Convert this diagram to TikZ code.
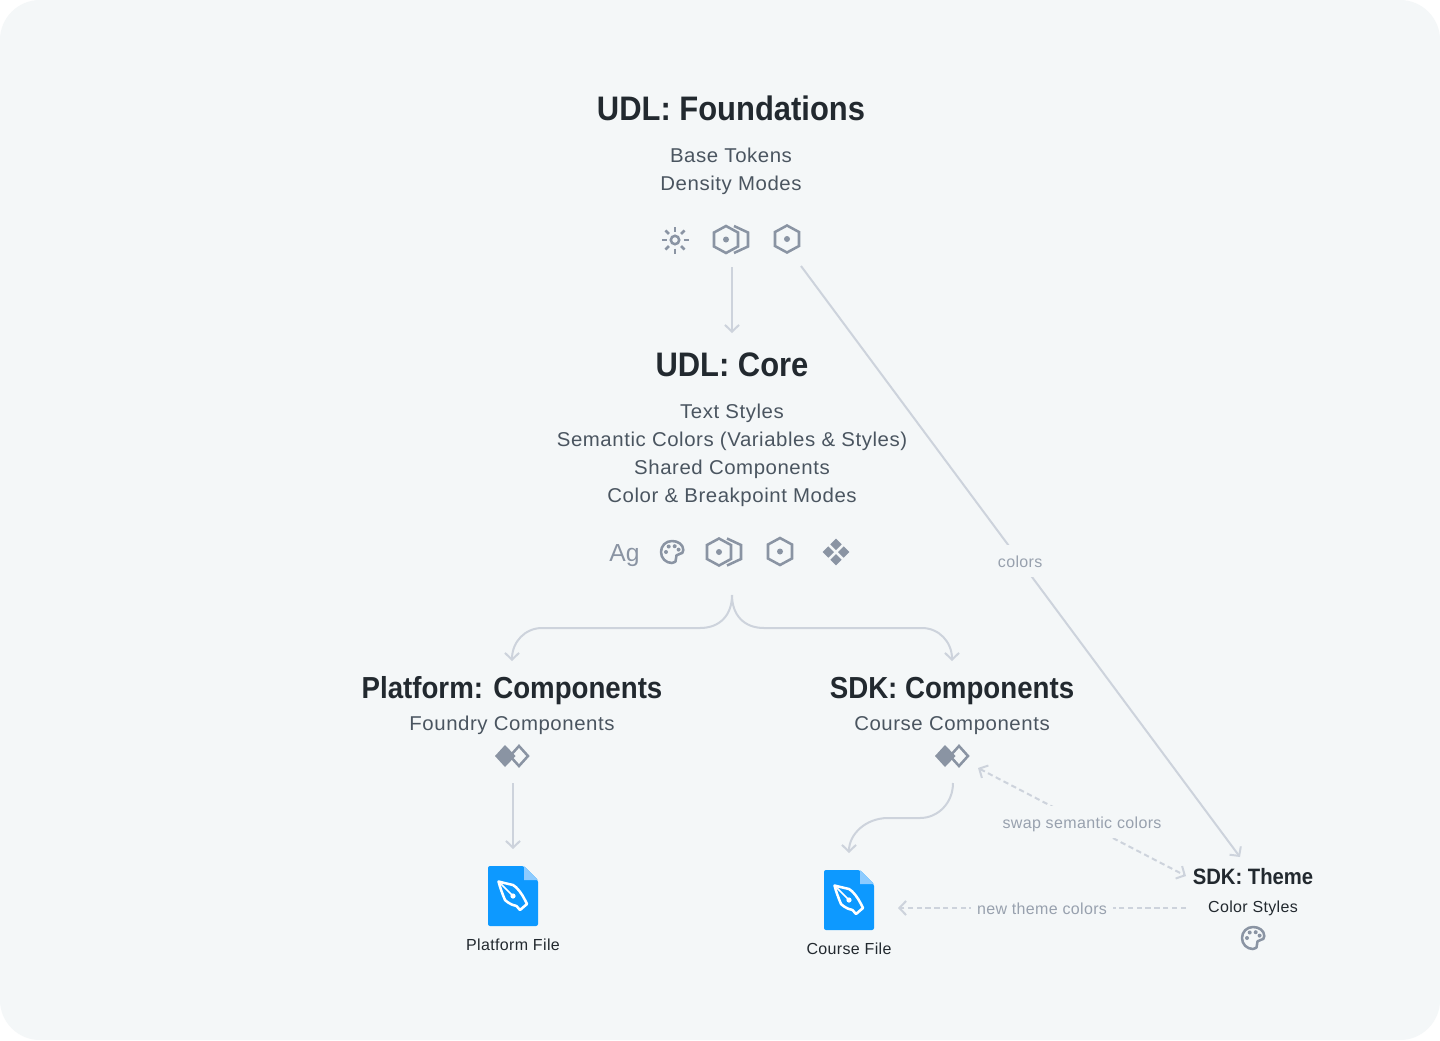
\documentclass[tikz,border=0pt]{standalone}
\usepackage{fontspec}
\setmainfont{Liberation Sans}
\usetikzlibrary{arrows.meta}
\definecolor{bgc}{HTML}{F4F7F8}
\definecolor{linec}{HTML}{CDD3DC}
\definecolor{iconc}{HTML}{8A94A3}
\definecolor{titlec}{HTML}{22292F}
\definecolor{subc}{HTML}{4A5560}
\definecolor{labelc}{HTML}{98A1AE}
\definecolor{fileblue}{HTML}{0D99FF}
\definecolor{foldblue}{HTML}{8CCBFF}
\newfontfamily\titlefont[FakeStretch=0.91]{Liberation Sans Bold}
\newfontfamily\subfont[FakeStretch=1.02,LetterSpace=2.8]{Liberation Sans}
\newfontfamily\smallfont[LetterSpace=2.2]{Liberation Sans}
\tikzset{
  txt/.style={anchor=base,inner sep=0pt,align=center},
  bigtitle/.style={txt,text=titlec,font=\titlefont\fontsize{25.5}{30}\selectfont},
  midtitle/.style={txt,text=titlec,font=\titlefont\fontsize{22.8}{27}\selectfont},
  smalltitle/.style={txt,text=titlec,font=\titlefont\fontsize{16.7}{20}\selectfont},
  subline/.style={txt,text=subc,font=\subfont\fontsize{15}{18}\selectfont},
  filelabel/.style={txt,text=titlec,font=\smallfont\fontsize{12}{15}\selectfont},
  linklabel/.style={anchor=center,inner xsep=4.5pt,inner ysep=6.4pt,text height=10.5pt,text depth=0.7pt,fill=bgc,text=labelc,font=\smallfont\fontsize{12}{15}\selectfont},
  link/.style={draw=linec,line width=1.5pt,-{Straight Barb[length=5pt,width=10.5pt,line width=1.5pt]}},
  dashlink/.style={link,dash pattern=on 4pt off 2.6pt},
  iconline/.style={draw=iconc,line width=1.9pt,line join=miter,fill=none},
  iconfill/.style={fill=iconc,draw=none},
  nibline/.style={draw=white,line width=1.9pt,line join=round}
}
\newcommand{\hexicon}[1]{\begin{scope}[shift={(#1)}]
  \draw[iconline] (0,-13.5)--(12,-7)--(12,7)--(0,13.5)--(-12,7)--(-12,-7)--cycle;
  \fill[iconfill] (0,0) circle[radius=3];
\end{scope}}
\newcommand{\dblhexicon}[1]{\begin{scope}[shift={(#1)}]
  \hexicon{0,0}
  \draw[iconline] (8,-13.5)--(22,-7)--(22,7)--(8,13.5);
\end{scope}}
\newcommand{\sunicon}[1]{\begin{scope}[shift={(#1)}]
  \draw[iconline] (0,0) circle[radius=4.2];
  \foreach \a in {0,45,...,315}{\draw[iconline] (\a:8.5)--(\a:13.5);}
\end{scope}}
\newcommand{\paletteicon}[1]{\begin{scope}[shift={(#1)}]
  \draw[iconline,line join=round] (0,-11) .. controls (-6.3,-11) and (-11,-6.2) .. (-11,0)
    .. controls (-11,6.2) and (-6.2,11) .. (0,11)
    .. controls (3,11) and (4.8,9) .. (4,6.5)
    .. controls (3.2,4) and (5,2) .. (7.5,2)
    .. controls (10,2) and (11.3,0.3) .. (11.3,-2)
    .. controls (11.3,-7.5) and (6,-11) .. (0,-11) -- cycle;
  \fill[iconfill] (-6,0) circle[radius=2] (-3.3,-5.5) circle[radius=2]
    (2.7,-5.8) circle[radius=2] (6.6,-2.4) circle[radius=2];
\end{scope}}
\newcommand{\smalldiamond}[1]{\fill[iconfill] (#1)+(0,-5.7)--+(5.7,0)--+(0,5.7)--+(-5.7,0)--cycle;}
\newcommand{\fourdiamonds}[1]{\begin{scope}[shift={(#1)}]
  \smalldiamond{0,-7.7}\smalldiamond{7.7,0}\smalldiamond{0,7.7}\smalldiamond{-7.7,0}
\end{scope}}
\newcommand{\compicon}[1]{\begin{scope}[shift={(#1)}]
  \fill[iconfill] (-7,-11)--(3.5,0)--(-7,11)--(-17,0)--cycle;
  \draw[iconline] (7,-10)--(16,0)--(7,10)--(-2,0)--cycle;
\end{scope}}
\newcommand{\fileicon}[1]{\begin{scope}[shift={(#1)}]
  \fill[fileblue,rounded corners=1.5pt] (-25,-30)--(11,-30)--(25,-16)--(25,30)--(-25,30)--cycle;
  \fill[foldblue] (11,-30)--(25,-16)--(11,-16)--cycle;
  \draw[nibline] (-14.5,-14.5) .. controls (-9,-13) and (-4,-12) .. (0,-11)
    .. controls (4,-9) and (9,-2) .. (12,4) -- (14,8) -- (7,14) -- (3.5,10)
    .. controls (-3,9) and (-8,4) .. (-8,4) .. controls (-11,-3) and (-13,-9) .. (-14.5,-14.5) -- cycle;
  \draw[white,line width=1.1pt] (-14.5,-14.5)--(0,0);
  \fill[white] (0,0) circle[radius=2.6];
\end{scope}}
\begin{document}
\begin{tikzpicture}[x=0.75pt,y=-0.75pt]
\useasboundingbox (0,0) rectangle (1440,1040);
\fill[white] (0,0) rectangle (1440,1040);
\fill[bgc,rounded corners=30pt] (0,0) rectangle (1440,1040);

% text
\node[bigtitle] (foundations) at (731,120) {UDL: Foundations};
\node[subline] (base) at (731,162) {Base Tokens};
\node[subline] (density) at (731,190) {Density Modes};
\node[bigtitle] (core) at (732,376.5) {UDL: Core};
\node[subline] (textstyles) at (732,418) {Text Styles};
\node[subline] (semantic) at (732,446) {Semantic Colors (Variables \& Styles)};
\node[subline] (shared) at (732,474) {Shared Components};
\node[subline] (modes) at (732,502) {Color \& Breakpoint Modes};
\node[midtitle] (platform) at (512,698.5) {Platform: Components};
\node[subline] (foundry) at (512,730) {Foundry Components};
\node[midtitle] (sdk) at (952,698.5) {SDK: Components};
\node[subline] (course) at (952,730) {Course Components};
\node[smalltitle] (theme) at (1253,884) {SDK: Theme};
\node[filelabel] (colorstyles) at (1253,912) {Color Styles};
\node[filelabel] (platformfile) at (513,950) {Platform File};
\node[filelabel] (coursefile) at (849,954) {Course File};
\node[txt,text=iconc,font=\fontsize{18.5}{22}\selectfont] (ag) at (624.5,561) {Ag};

% icons
\sunicon{675,240}
\dblhexicon{726,239.5}
\hexicon{787,239}
\paletteicon{672,552}
\dblhexicon{719,552}
\hexicon{780,551.5}
\fourdiamonds{836,552}
\compicon{512,756}
\compicon{952,756}
\paletteicon{1253,938}
\fileicon{513,896}
\fileicon{849,900}

% connector ends
\coordinate (foundA) at (732,267);
\coordinate (coreIn) at (732,333);
\coordinate (foundB) at (801,266);
\coordinate (themeIn) at (1240,857);
\coordinate (coreOut) at (732,595);
\coordinate (platIn) at (512,661);
\coordinate (sdkIn) at (952,661);
\coordinate (platOut) at (513,783);
\coordinate (platFileIn) at (513,849);
\coordinate (sdkOut) at (953,783);
\coordinate (courseIn) at (849,853);
\coordinate (themeSwap) at (1186,876);
\coordinate (sdkSwap) at (978,768);
\coordinate (themeNew) at (1186,908);
\coordinate (courseNew) at (898,908);

% connectors
\draw[link] (foundA) -- (coreIn);
\draw[link] (foundB) -- node[linklabel,pos=0.4992] (colors) {colors} (themeIn);
\draw[link] (coreOut) .. controls (732,615) and (720,628) .. (700,628) -- (542,628)
  .. controls (525,628) and (512,642) .. (platIn);
\draw[link] (coreOut) .. controls (732,615) and (744,628) .. (764,628) -- (922,628)
  .. controls (939,628) and (952,642) .. (sdkIn);
\draw[link] (platOut) -- (platFileIn);
\draw[link] (sdkOut) .. controls (953,803) and (938,818) .. (920,818) -- (888,818)
  .. controls (866,818) and (849,834) .. (courseIn);
\draw[dashlink,{Straight Barb[length=5pt,width=10.5pt,line width=1.5pt]}-{Straight Barb[length=5pt,width=10.5pt,line width=1.5pt]}]
  (sdkSwap) -- node[linklabel,pos=0.5] (swap) {swap semantic colors} (themeSwap);
\draw[dashlink] (themeNew) -- node[linklabel,pos=0.5] (newtheme) {new theme colors} (courseNew);
\end{tikzpicture}
\end{document}
